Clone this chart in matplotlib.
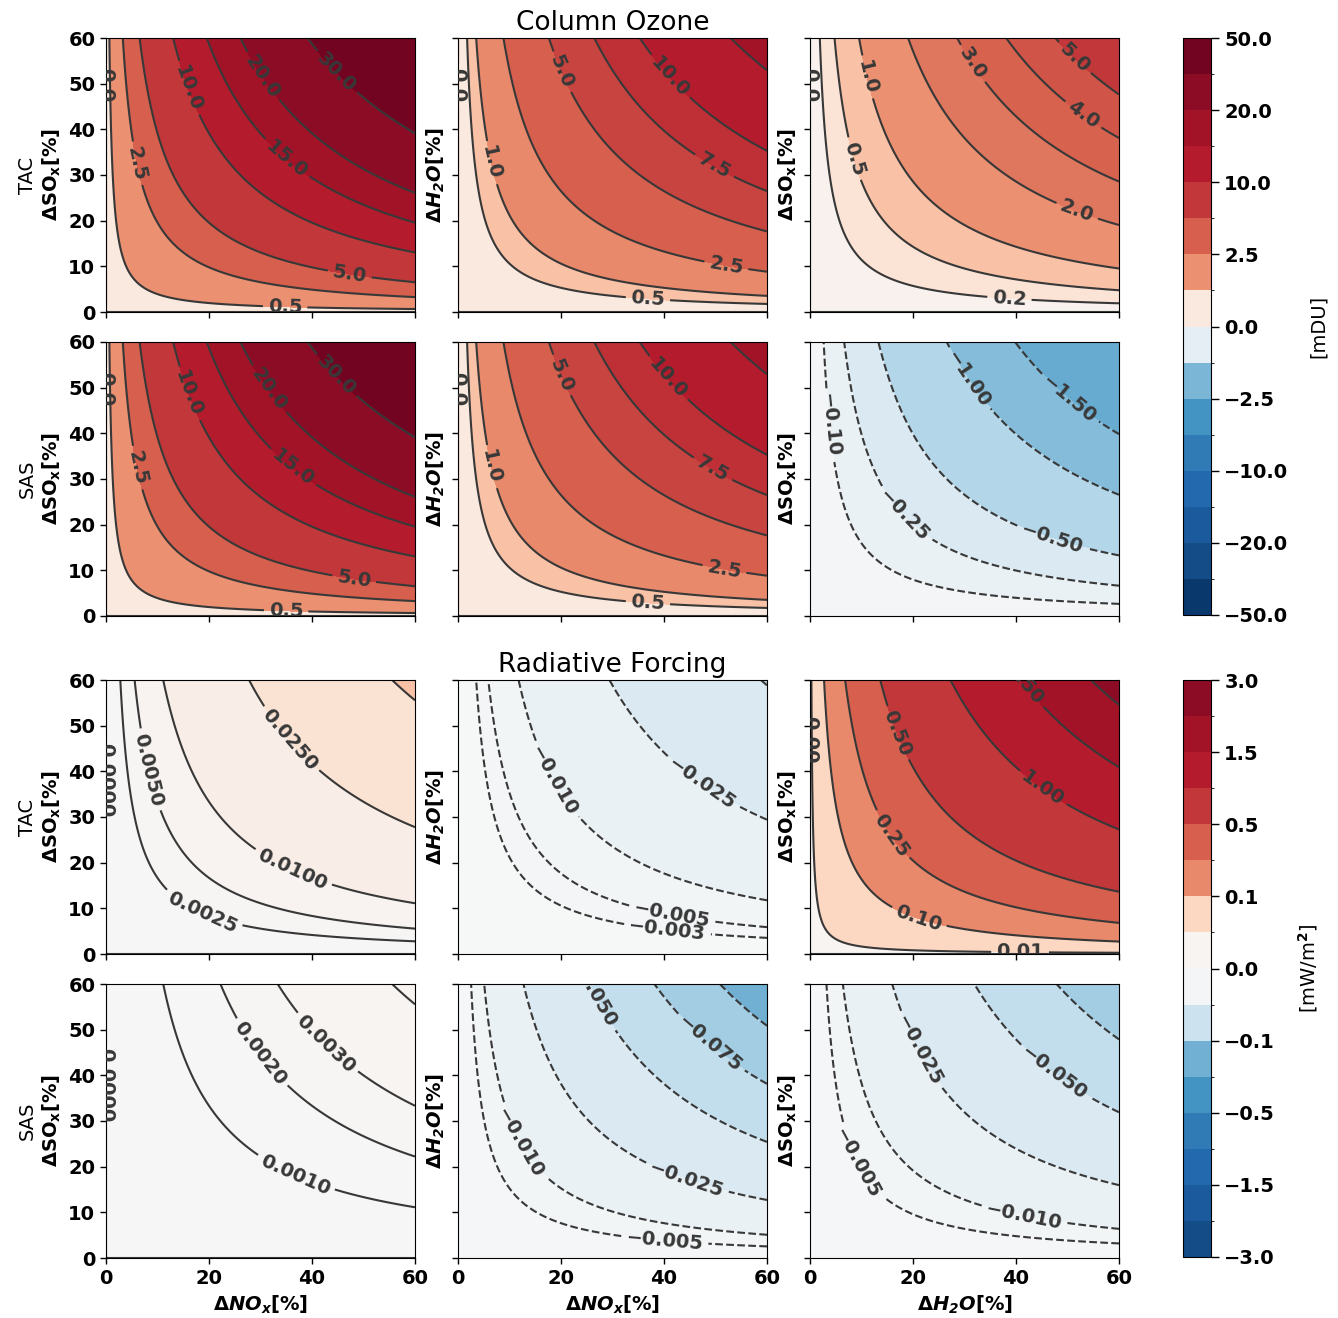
import numpy as np
import matplotlib
matplotlib.use('Agg')
import matplotlib.pyplot as plt
from matplotlib import colors as mcolors
from matplotlib.cm import ScalarMappable
from matplotlib.ticker import FuncFormatter

plt.rcParams['font.family'] = ['DejaVu Sans']
plt.rcParams['font.weight'] = 'bold'
plt.rcParams['mathtext.fontset'] = 'dejavusans'

# ---------------- data ----------------
scenarios = ['TAC', 'SAS']
col_xvar = ['NOx', 'NOx', 'H2O']
col_yvar = ['SOx', 'H2O', 'SOx']

# response at the (60 %, 60 %) corner of each panel; surfaces grow as x*y
ozone_corner = {'TAC': [46.0, 17.0, 6.3], 'SAS': [46.0, 17.0, -2.26]}
rf_corner = {'TAC': [0.054, -0.051, 2.2], 'SAS': [0.0054, -0.118, -0.094]}

ozone_levels = {
    'TAC': [[0, 0.5, 2.5, 5, 10, 15, 20, 30, 50],
            [0, 0.5, 1.0, 2.5, 5.0, 7.5, 10, 15, 20],
            [0, 0.2, 0.5, 1, 2, 3, 4, 5, 10]],
    'SAS': [[0, 0.5, 2.5, 5, 10, 15, 20, 30, 50],
            [0, 0.5, 1.0, 2.5, 5.0, 7.5, 10, 15, 20],
            [-2.5, -1.5, -1.0, -0.5, -0.25, -0.1, 0]],
}
ozone_fmt = {'TAC': ['%.1f', '%.1f', '%.1f'], 'SAS': ['%.1f', '%.1f', '%.2f']}

rf_levels = {
    'TAC': [[0, 0.0025, 0.005, 0.01, 0.025, 0.05, 0.1],
            [-0.1, -0.05, -0.025, -0.01, -0.005, -0.003, 0],
            [0, 0.01, 0.1, 0.25, 0.5, 1.0, 1.5, 2.0, 3.0]],
    'SAS': [[0, 0.001, 0.002, 0.003, 0.005, 0.01],
            [-0.25, -0.1, -0.075, -0.05, -0.025, -0.01, -0.005, 0],
            [-0.1, -0.075, -0.05, -0.025, -0.01, -0.005, 0]],
}
rf_fmt = {'TAC': ['%.4f', '%.3f', '%.2f'], 'SAS': ['%.4f', '%.3f', '%.3f']}

ozone_cbar_levels = [-50, -30, -20, -15, -10, -5, -2.5, -0.5, 0,
                     0.5, 2.5, 5, 10, 15, 20, 30, 50]
rf_cbar_levels = [-3, -2, -1.5, -1, -0.5, -0.25, -0.1, -0.01, 0,
                  0.01, 0.1, 0.25, 0.5, 1, 1.5, 2, 3]

titles = ['Column Ozone', 'Radiative Forcing']
cbar_labels = ['[mDU]', r'[mW/m$^2$]']

# ---------------- styling ----------------
cmap = plt.get_cmap('RdBu_r')
ozone_norm = mcolors.SymLogNorm(linthresh=1.0, linscale=1.0, vmin=-50, vmax=50, base=10)
rf_norm = mcolors.SymLogNorm(linthresh=0.1, linscale=1.0, vmin=-5, vmax=5, base=10)
line_color = '0.22'

# where the contour labels sit (axis units), per section / scenario / column
ozone_label_pos = {
    'TAC': [[(0.0, 49.7), (44.9, 52.6), (30.3, 51.5), (15.9, 49), (35.3, 33.9),
             (6.2, 32.6), (47.4, 8.8), (34.8, 1.75)],
            [(0.0, 49.7), (20.2, 52.6), (41.6, 52), (6.2, 32.6), (50.1, 32.6),
             (52.2, 10.7), (36.9, 3.3)],
            [(0.0, 49.7), (11.3, 51.5), (29.7, 53), (51, 55.2), (53, 43.1),
             (8.7, 33.6), (51.8, 21.9), (38.8, 4.2)]],
    'SAS': [[(0.0, 49.7), (44.1, 52), (32.8, 50.6), (16.9, 49), (37.3, 33.9),
             (6.6, 32.6), (48.3, 9), (35, 1.9)],
            [(0.0, 49.7), (19.8, 52.6), (40.2, 51.5), (6.2, 32.6), (49.7, 32.6),
             (51.8, 10.7), (36.9, 3.3)],
            [(30.5, 51.7), (50.5, 47.7), (4.1, 41.8), (18.8, 22.5), (47.2, 17.7)]],
}
rf_label_pos = {
    'TAC': [[(0.0, 38.1), (8.2, 40.3), (35.7, 46.9), (36.3, 18.7), (18.8, 9.4)],
            [(18.8, 38.1), (47.6, 37.7), (41.6, 9.0), (40.6, 4.6)],
            [(0.0, 46.9), (40.8, 58.2), (16.1, 48), (44, 34.4), (15, 25.4),
             (21, 7.4), (40.8, 0.7)]],
    'SAS': [[(0.0, 37.9), (30.3, 45.1), (43.1, 47.3), (36.9, 18.6)],
            [(22.3, 55.8), (49.1, 47.1), (12, 25.2), (44.5, 17.5), (40.2, 4.6)],
            [(20.4, 44.9), (47.6, 40.7), (9.3, 20.8), (41.7, 9.9)]],
}

var_label = {
    'SOx': r'$\mathbf{\Delta SO_x[\%]}$',
    'NOx': r'$\mathbf{\Delta}\mathbfit{NO_x}\mathbf{[\%]}$',
    'H2O': r'$\mathbf{\Delta}\mathbfit{H_2O}\mathbf{[\%]}$',
}

W, H = 1338, 1318
fig = plt.figure(figsize=(W / 100, H / 100), dpi=100)


def px_axes(l, t, w, h):
    return fig.add_axes([l / W, 1 - (t + h) / H, w / W, h / H])


col_left = [106, 458, 810]
row_top = [38, 342, 680, 984]
aw, ah = 309, 274

pct = np.linspace(0, 60, 301)
X, Y = np.meshgrid(pct, pct)

sections = [
    (ozone_corner, ozone_levels, ozone_fmt, ozone_norm, ozone_label_pos),
    (rf_corner, rf_levels, rf_fmt, rf_norm, rf_label_pos),
]

axes = [[None] * 3 for _ in range(4)]
for s, (corner, levels, fmts, norm, lpos) in enumerate(sections):
    for i, scen in enumerate(scenarios):
        row = 2 * s + i
        for j in range(3):
            ax = px_axes(col_left[j], row_top[row], aw, ah)
            axes[row][j] = ax
            Z = corner[scen][j] * (X / 60.0) * (Y / 60.0)
            lv = levels[scen][j]
            ax.contourf(X, Y, Z, levels=lv, cmap=cmap, norm=norm)
            cs = ax.contour(X, Y, Z, levels=lv, colors=line_color, linewidths=1.5)
            f = fmts[scen][j]
            ax.clabel(cs, fmt=lambda v, f=f: (f % v).replace('-', '\u2212'),
                      fontsize=14, inline=True, manual=lpos[scen][j])
            ax.set_xlim(0, 60)
            ax.set_ylim(0, 60)
            ax.set_xticks([0, 20, 40, 60])
            ax.set_yticks([0, 10, 20, 30, 40, 50, 60])
            ax.tick_params(labelsize=14, length=4.2, width=1,
                           labelbottom=(row == 3), labelleft=(j == 0))
            if j == 0:
                ax.set_ylabel(scen + '\n' + var_label[col_yvar[j]],
                              fontsize=14, fontweight='normal', labelpad=4)
            else:
                ax.set_ylabel(var_label[col_yvar[j]], fontsize=14, labelpad=4)
            if row == 3:
                ax.set_xlabel(var_label[col_xvar[j]], fontsize=14, labelpad=4)
    axes[2 * s][1].set_title(titles[s], fontsize=19, fontweight='normal', pad=6)

# ---------------- colorbars ----------------
cbar_sets = [(ozone_cbar_levels, ozone_norm, 38, 577),
             (rf_cbar_levels, rf_norm, 680, 577)]
for k, (lv, norm, top, hgt) in enumerate(cbar_sets):
    lv = np.asarray(lv, dtype=float)
    mids = 0.5 * (lv[:-1] + lv[1:])
    lc = mcolors.ListedColormap(cmap(norm(mids)))
    bn = mcolors.BoundaryNorm(lv, lc.N)
    cax = px_axes(1183, top, 28, hgt)
    cb = fig.colorbar(ScalarMappable(norm=bn, cmap=lc), cax=cax,
                      ticks=lv[::2], spacing='uniform')
    cb.ax.yaxis.set_major_formatter(
        FuncFormatter(lambda v, p: ('%.1f' % v).replace('-', '\u2212')))
    cb.ax.tick_params(labelsize=14, length=6, width=1)
    cb.set_label(cbar_labels[k], fontsize=14, fontweight='normal', labelpad=15)

fig.savefig('out.png', dpi=100)
